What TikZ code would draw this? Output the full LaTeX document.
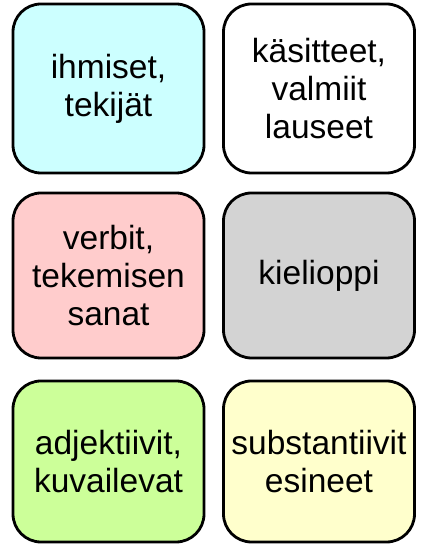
\documentclass[tikz,border=0pt]{standalone}
\usepackage{fontspec}
\setmainfont{Liberation Sans}
\definecolor{ccyan}{HTML}{CCFFFF}
\definecolor{cpink}{HTML}{FFCCCC}
\definecolor{cgray}{HTML}{D3D3D3}
\definecolor{cgreen}{HTML}{CCFF99}
\definecolor{cyellow}{HTML}{FFFFCC}
\begin{document}
\begin{tikzpicture}[x=1pt,y=1pt,
  card/.style={draw=black, line width=2.8pt, rounded corners=28pt,
    minimum width=191pt, align=center, inner sep=0pt,
    font=\fontsize{33.5}{38}\selectfont, text=black}]
\useasboundingbox (0,0) rectangle (421,545);
\node[card, fill=ccyan, minimum height=169pt] (a) at (108.5,456.5) {ihmiset,\\tekijät};
\node[card, fill=white, minimum height=169pt] (b) at (319,456.5) {käsitteet,\\valmiit\\lauseet};
\node[card, fill=cpink, minimum height=165pt] (c) at (108.5,269.5) {verbit,\\tekemisen\\sanat};
\node[card, fill=cgray, minimum height=165pt] (d) at (319,269.5) {kielioppi};
\node[card, fill=cgreen, minimum height=161pt] (e) at (108.5,83.5) {adjektiivit,\\kuvailevat};
\node[card, fill=cyellow, minimum height=161pt] (f) at (319,83.5) {substantiivit\\esineet};
\end{tikzpicture}
\end{document}
